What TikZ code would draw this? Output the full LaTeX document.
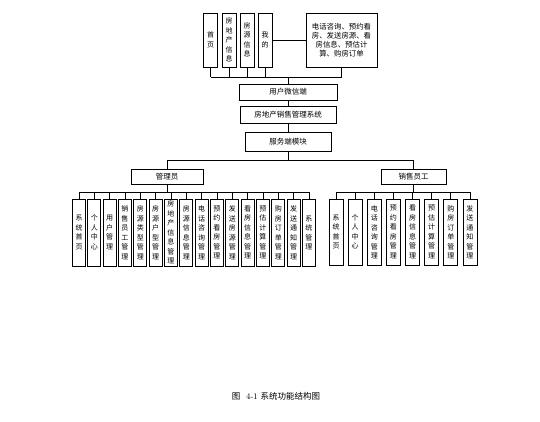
\documentclass[tikz,border=0pt]{standalone}
\usepackage{fontspec}
\newfontfamily\cjk{Noto Sans CJK SC}
\usepackage{tikz}

\tikzset{
  vbox/.style={draw,inner sep=0pt,minimum width=13pt,minimum height=67pt,
    align=center,font=\cjk\fontsize{7}{9.5}\selectfont},
  hbox/.style={draw,inner sep=0pt,align=center,
    font=\cjk\fontsize{7.5}{9}\selectfont}
}

\begin{document}
\begin{tikzpicture}[x=1pt,y=-1pt,line width=0.7pt]
\useasboundingbox (0,0) rectangle (540,422);
% top row: WeChat side menu
\node[vbox,minimum width=14pt,minimum height=54pt] (t1) at (210.5,40) {首\\页};
\node[vbox,minimum width=14pt,minimum height=54pt] (t2) at (229,40) {房\\地\\产\\信\\息};
\node[vbox,minimum width=14pt,minimum height=54pt] (t3) at (247,40) {房\\源\\信\\息};
\node[vbox,minimum width=14pt,minimum height=54pt] (t4) at (265,40) {我\\的};
\node[hbox,minimum width=71pt,minimum height=54pt,font=\cjk\fontsize{7.4}{8.8}\selectfont] (info) at (341.5,40)
  {电话咨询、预约看\\房、发送房源、看\\房信息、预估计\\算、购房订单};
\draw (t4.east) -- (info.west);
% main column
\node[hbox,minimum width=98pt,minimum height=16pt] (wechat) at (288,92) {用户微信端};
\node[hbox,minimum width=96pt,minimum height=17pt] (sys) at (288,115) {房地产销售管理系统};
\node[hbox,minimum width=86pt,minimum height=19pt] (srv) at (288,142) {服务端模块};
\coordinate (topbus) at (0,77);
\foreach \k in {1,2,3,4}{
\draw (t\k.south) -- (t\k.south |- topbus);
}
\draw (info.south) -- (info.south |- topbus);
\draw (t1.south |- topbus) -- (info.south |- topbus);
\draw (wechat.north |- topbus) -- (wechat.north);
\draw (wechat.south) -- (sys.north);
\draw (sys.south) -- (srv.north);
% the two roles
\node[hbox,minimum width=72pt,minimum height=15pt] (admin) at (167,176.5) {管理员};
\node[hbox,minimum width=65pt,minimum height=15pt] (sales) at (413.5,176.5) {销售员工};
\coordinate (midbus) at (0,160);
\draw (srv.south) -- (srv.south |- midbus);
\draw (admin.north) -- (admin.north |- midbus) -- (sales.north |- midbus) -- (sales.north);
% admin modules
\coordinate (rolebus) at (0,192);
\foreach \t [count=\k] in {系\\统\\首\\页,个\\人\\中\\心,用\\户\\管\\理,
  销\\售\\员\\工\\管\\理,房\\源\\类\\型\\管\\理,房\\源\\户\\型\\管\\理,
  房\\地\\产\\信\\息\\管\\理,房\\源\\信\\息\\管\\理,电\\话\\咨\\询\\管\\理,
  预\\约\\看\\房\\管\\理,发\\送\\房\\源\\管\\理,看\\房\\信\\息\\管\\理,
  预\\估\\计\\算\\管\\理,购\\房\\订\\单\\管\\理,发\\送\\通\\知\\管\\理,
  系\\统\\管\\理}{
\pgfmathsetmacro{\xc}{79+(\k-1)*15.33}
\node[vbox] (a\k) at (\xc,232.5) {\t};
\draw (a\k.north) -- (a\k.north |- rolebus);
}
\draw (a1.north |- rolebus) -- (a16.north |- rolebus);
\draw (admin.south) -- (admin.south |- rolebus);
% sales staff modules
\foreach \t [count=\k] in {系\\统\\首\\页,个\\人\\中\\心,电\\话\\咨\\询\\管\\理,
  预\\约\\看\\房\\管\\理,看\\房\\信\\息\\管\\理,预\\估\\计\\算\\管\\理,
  购\\房\\订\\单\\管\\理,发\\送\\通\\知\\管\\理}{
\pgfmathsetmacro{\xc}{336+(\k-1)*19.14}
\node[vbox,minimum width=14pt,minimum height=66pt] (s\k) at (\xc,232) {\t};
\draw (s\k.north) -- (s\k.north |- rolebus);
}
\draw (s1.north |- rolebus) -- (s8.north |- rolebus);
\draw (sales.south) -- (sales.south |- rolebus);
% caption
\node[font=\fontsize{8.5}{10}\selectfont] (cap) at (276,396) {{\cjk 图}\ \ 4-1 {\cjk 系统功能结构图}};
\end{tikzpicture}
\end{document}
